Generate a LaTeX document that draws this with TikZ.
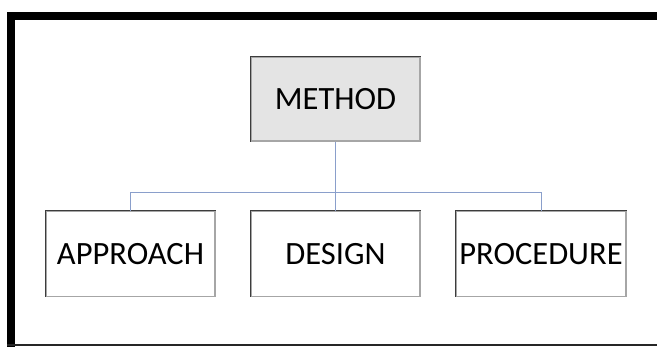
\documentclass[tikz,border=0pt]{standalone}
\usepackage{fontspec}
\setmainfont{Carlito}
\definecolor{linkblue}{HTML}{8A9FCB}
\definecolor{boxgray}{HTML}{E4E4E4}
\definecolor{edgedark}{HTML}{3C3C3C}
\definecolor{edgelight}{HTML}{A6A6A6}
\begin{document}
\begin{tikzpicture}[x=1pt,y=-1pt,
  box/.style={draw=edgelight,line width=1.2pt,minimum width=169pt,minimum height=85pt,inner sep=0pt,
    font=\fontsize{32.5}{38}\selectfont},
  link/.style={draw=linkblue,line width=1pt}]
\useasboundingbox (0,0) rectangle (657,347);
% frame
\draw[line width=8pt,black] (11,347) -- (11,16) -- (657,16);
\draw[line width=2pt,black!85] (7,345.3) -- (657,345.3);
% nodes
\node[box,fill=boxgray,minimum height=84pt] (m) at (335.5,99) {METHOD};
\node[box] (a) at (130.5,253.75) {APPROACH};
\node[box] (d) at (335.5,253.75) {DESIGN};
\node[box,minimum width=170pt] (p) at (541,253.75) {PROCEDURE};
\foreach \n in {m,a,d,p}
  \draw[edgedark,line width=1.2pt] (\n.south west) -- (\n.north west) -- (\n.north east);
% connectors
\draw[link] (m.south) -- (d.north);
\draw[link] (a.north) -- ++(0,-18.5) coordinate (jl) -| (p.north);
\end{tikzpicture}
\end{document}
